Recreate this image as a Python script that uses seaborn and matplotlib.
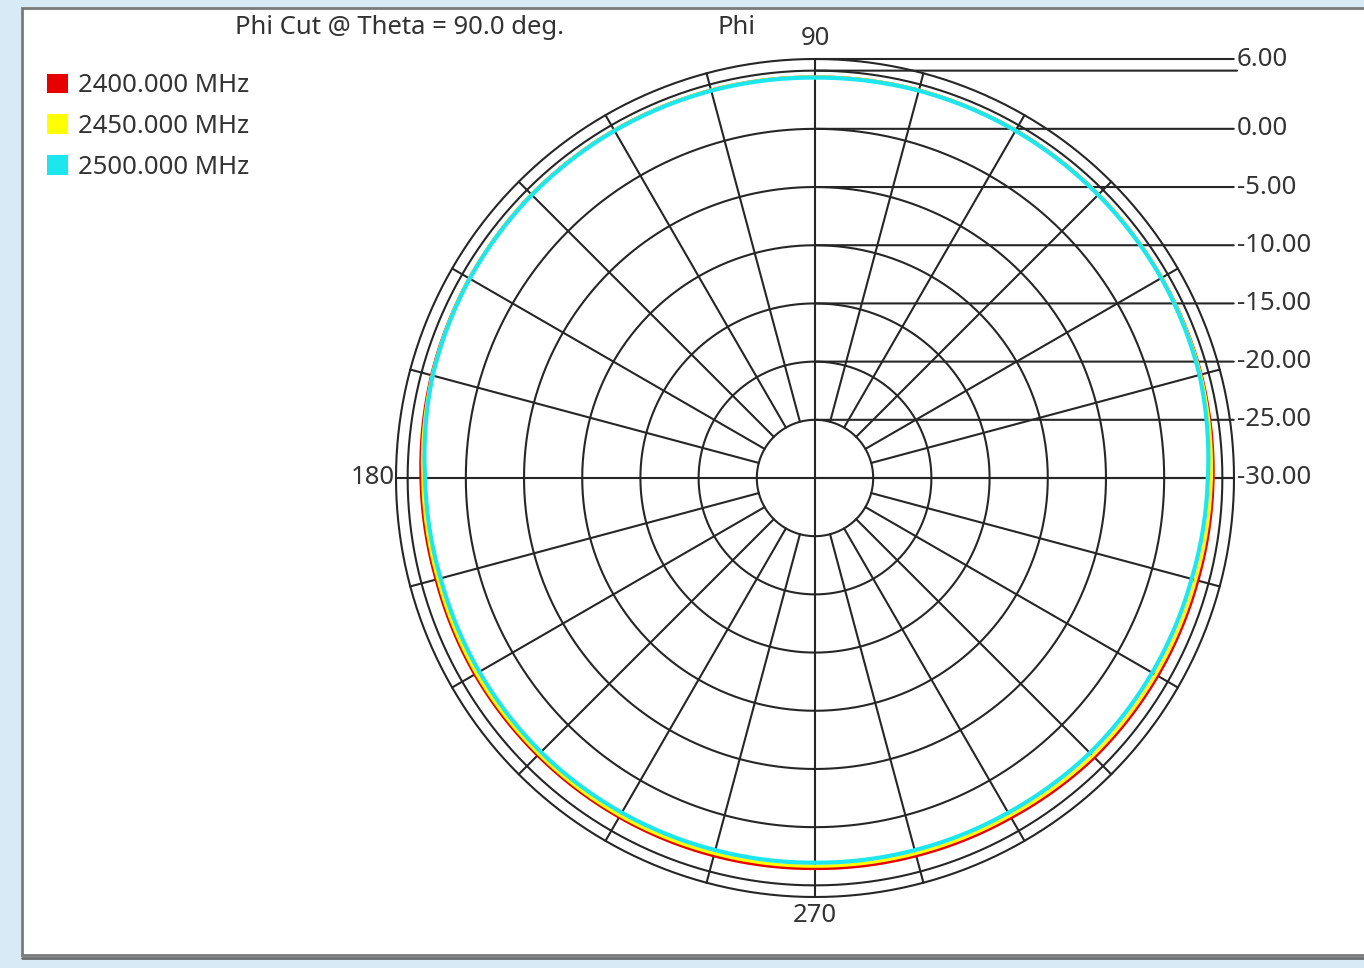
import numpy as np
import pandas as pd
import seaborn as sns
import matplotlib.pyplot as plt
from matplotlib.patches import Rectangle, Patch
from matplotlib.lines import Line2D

# data (gain in dBi, every 15 deg)
phi_deg = [0, 15, 30, 45, 60, 75, 90, 105, 120, 135, 150, 165,
           180, 195, 210, 225, 240, 255, 270, 285, 300, 315, 330, 345]
gain_2400 = [4.2, 4.35, 4.4, 4.45, 4.5, 4.5, 4.45, 4.5, 4.5, 4.45, 4.3, 4.1,
             3.85, 3.7, 3.75, 3.7, 3.65, 3.6, 3.55, 3.6, 3.7, 3.95, 4.0, 4.05]
gain_2450 = [4.05, 4.3, 4.4, 4.45, 4.5, 4.5, 4.45, 4.5, 4.5, 4.45, 4.3, 4.05,
             3.7, 3.55, 3.6, 3.55, 3.5, 3.4, 3.35, 3.4, 3.5, 3.75, 3.8, 3.85]
gain_2500 = [3.75, 4.2, 4.35, 4.4, 4.45, 4.45, 4.4, 4.45, 4.45, 4.4, 4.25, 4.0,
             3.5, 3.3, 3.3, 3.3, 3.2, 3.1, 3.05, 3.1, 3.2, 3.4, 3.45, 3.5]
freq_labels = ["2400.000 MHz", "2450.000 MHz", "2500.000 MHz"]
freq_colors = ["#e60000", "#ffff00", "#1ee6ee"]

ring_levels = [-25, -20, -15, -10, -5, 0, 5, 6]
label_levels = [6, 0, -5, -10, -15, -20, -25, -30]
spoke_deg = np.arange(0, 360, 15)

R_MIN, R_MAX = -30, 6
W, H = 1364, 968
grid_col = "#262626"
grid_lw = 1.5
txt_col = "#333333"
fs = 18.5

# build long table, closing each loop
rows = []
for name, vals in zip(freq_labels, [gain_2400, gain_2450, gain_2500]):
    th = np.deg2rad(np.append(phi_deg, 360))
    g = np.append(vals, vals[0])
    for t, v in zip(th, g):
        rows.append({"phi": t, "gain": v, "freq": name})
df = pd.DataFrame(rows)

sns.set_theme(style="white")
plt.rcParams["font.family"] = ["Noto Sans", "DejaVu Sans"]

fig = plt.figure(figsize=(W / 100, H / 100), dpi=100, facecolor="#d9eaf7")

# white panel with grey frame (behind the axes)
fig.patches.append(Rectangle((22 / W, 1 - 955 / H), 1.1, (955 - 8) / H,
                             transform=fig.transFigure, facecolor="white",
                             edgecolor="#7a7a7a", linewidth=2, zorder=-5))
fig.lines.append(Line2D([22 / W, 1], [1 - 958 / H, 1 - 958 / H],
                        transform=fig.transFigure, color="#6e6e6e", lw=2, zorder=-4))

# polar axes: centre (815, 478) px, radius 419 px
cx, cy, rad = 815, 478, 419
ax = fig.add_axes([(cx - rad) / W, 1 - (cy + rad) / H, 2 * rad / W, 2 * rad / H],
                  projection="polar")
ax.set_facecolor("none")
ax.set_ylim(R_MIN, R_MAX)
ax.grid(False)
ax.spines["polar"].set_visible(False)
ax.set_xticks([])
ax.set_yticks([])

# rings
ring_t = np.linspace(0, 2 * np.pi, 721)
for lvl in ring_levels:
    ax.plot(ring_t, np.full_like(ring_t, lvl), color=grid_col, lw=grid_lw,
            zorder=2, clip_on=False)

# spokes from the -25 ring outwards, full axes through the centre
for a in spoke_deg:
    t = np.deg2rad(a)
    r0 = R_MIN if a % 90 == 0 else -25
    ax.plot([t, t], [r0, R_MAX], color=grid_col, lw=grid_lw, zorder=2, clip_on=False)

# level labels on the right with horizontal leader lines
for lvl in [5] + label_levels:
    txt = "" if lvl == 5 else f"{lvl:.2f}"
    ax.annotate(txt, xy=(np.pi / 2, lvl), xytext=(422 * 0.72, 0),
                textcoords="offset points", ha="left", va="center",
                fontsize=fs, color=txt_col, annotation_clip=False,
                arrowprops=dict(arrowstyle="-", color=grid_col, lw=grid_lw,
                                shrinkA=0, shrinkB=0))

# pattern traces
sns.lineplot(data=df, x="phi", y="gain", hue="freq", hue_order=freq_labels,
             palette=freq_colors, sort=False, estimator=None, legend=False,
             linewidth=2.3, ax=ax, zorder=3)
for ln in ax.lines[-3:]:
    ln.get_path()._interpolation_steps = 40
ax.lines[-1].set_linewidth(3.0)
ax.set_xlabel("")
ax.set_ylabel("")

# angle labels
ax.annotate("90", xy=(np.pi / 2, R_MAX), xytext=(0, 15), textcoords="offset points",
            ha="center", va="center", fontsize=fs, color=txt_col, annotation_clip=False)
ax.annotate("180", xy=(np.pi, R_MAX), xytext=(-1, 0), textcoords="offset points",
            ha="right", va="center", fontsize=fs, color=txt_col, annotation_clip=False)
ax.annotate("270", xy=(3 * np.pi / 2, R_MAX), xytext=(0, -13), textcoords="offset points",
            ha="center", va="center", fontsize=fs, color=txt_col, annotation_clip=False)

fig.text(400 / W, 1 - 28 / H, "Phi Cut @ Theta = 90.0 deg.", ha="center", va="center",
         fontsize=fs, color=txt_col)
fig.text(737 / W, 1 - 28 / H, "Phi", ha="center", va="center", fontsize=fs, color=txt_col)

handles = [Patch(facecolor=c, edgecolor="none") for c in freq_colors]
fig.legend(handles, freq_labels, loc="upper left", bbox_to_anchor=(37 / W, 1 - 63 / H),
           frameon=False, fontsize=fs, handlelength=0.8, handleheight=0.8,
           handletextpad=0.4, labelspacing=0.62, borderaxespad=0, labelcolor=txt_col)

fig.savefig("out.png", dpi=100, facecolor=fig.get_facecolor())
